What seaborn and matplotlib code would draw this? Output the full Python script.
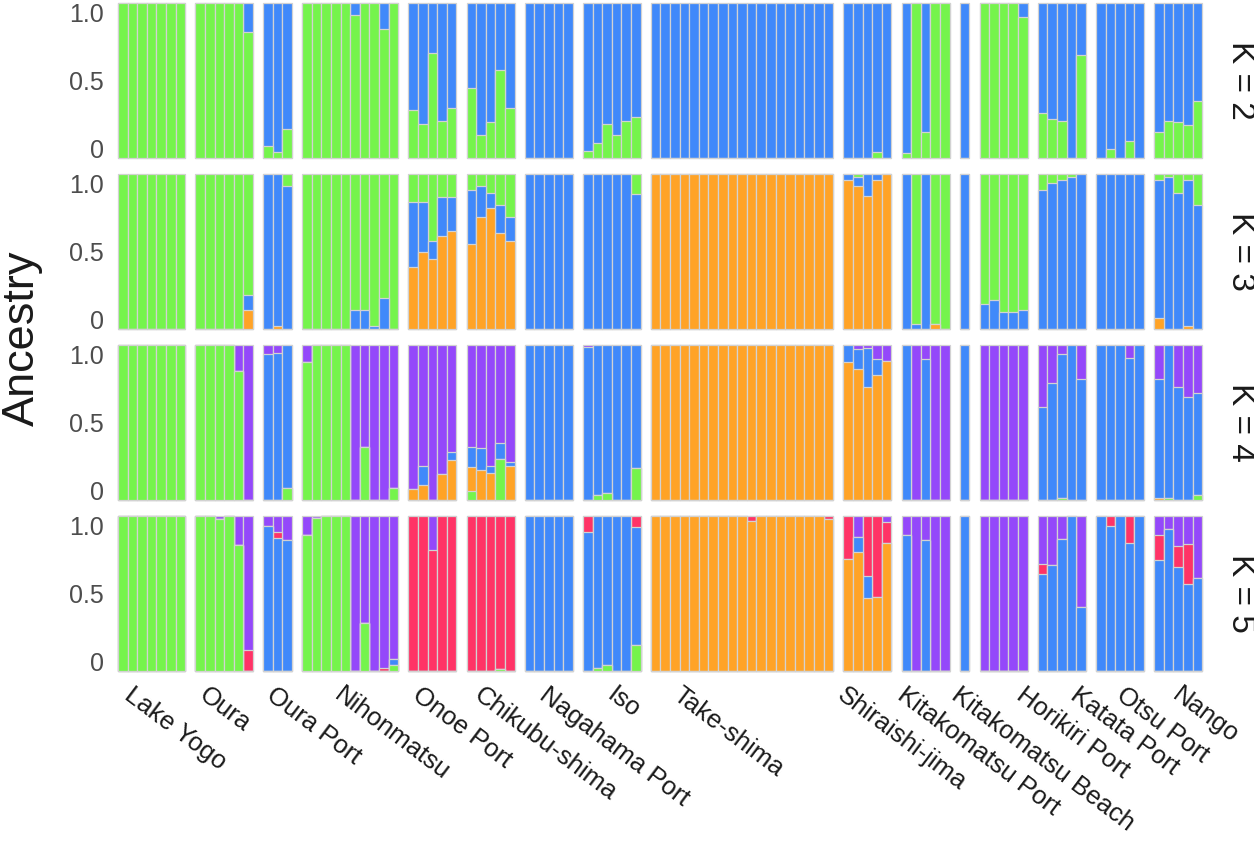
import matplotlib.pyplot as plt
import numpy as np
import seaborn as sns

# populations (facet columns) and number of individuals in each
populations = ['Lake Yogo', 'Oura', 'Oura Port', 'Nihonmatsu', 'Onoe Port', 'Chikubu-shima',
               'Nagahama Port', 'Iso', 'Take-shima', 'Shiraishi-jima', 'Kitakomatsu Port',
               'Kitakomatsu Beach', 'Horikiri Port', 'Katata Port', 'Otsu Port', 'Nango']
pop_sizes = [7, 6, 3, 10, 5, 5, 5, 6, 19, 5, 5, 1, 5, 5, 5, 5]
k_values = [2, 3, 4, 5]

GREEN = '#75F44C'
BLUE = '#4089FA'
ORANGE = '#FFA326'
PURPLE = '#9448FA'
RED = '#FF3366'

# ancestry proportions, one value per individual, grouped by population
# (the top cluster of each K is whatever is left up to 1)

# K = 2 : green below, blue on top
k2_green = ([1, 1, 1, 1, 1, 1, 1] +
            [1, 1, 1, 1, 1, 0.81] +
            [0.08, 0.04, 0.19] +
            [1, 1, 1, 1, 1, 0.92, 1, 1, 0.83, 1] +
            [0.31, 0.22, 0.68, 0.24, 0.32] +
            [0.45, 0.15, 0.23, 0.57, 0.32] +
            [0, 0, 0, 0, 0] +
            [0.045, 0.10, 0.22, 0.15, 0.24, 0.265] +
            [0] * 19 +
            [0, 0, 0, 0.04, 0] +
            [0.03, 1, 0.17, 1, 1] +
            [0] +
            [1, 1, 1, 1, 0.91] +
            [0.29, 0.25, 0.24, 0, 0.665] +
            [0, 0.06, 0, 0.11, 0] +
            [0.17, 0.24, 0.23, 0.21, 0.37])

# K = 3 : orange, blue, green on top
k3_orange = ([0] * 7 +
             [0, 0, 0, 0, 0, 0.12] +
             [0, 0.02, 0] +
             [0] * 10 +
             [0.40, 0.50, 0.45, 0.60, 0.63] +
             [0.55, 0.72, 0.78, 0.62, 0.57] +
             [0] * 5 +
             [0] * 6 +
             [1] * 19 +
             [0.96, 0.92, 0.86, 0.96, 1.0] +
             [0, 0, 0, 0.03, 0] +
             [0] +
             [0] * 5 +
             [0] * 5 +
             [0] * 5 +
             [0.07, 0, 0, 0.02, 0])
k3_blue = ([0] * 7 +
           [0, 0, 0, 0, 0, 0.10] +
           [1, 0.98, 0.92] +
           [0, 0, 0, 0, 0, 0.12, 0.12, 0.02, 0.2, 0] +
           [0.42, 0.32, 0.12, 0.25, 0.22] +
           [0.35, 0.20, 0.10, 0.18, 0.15] +
           [1] * 5 +
           [1, 1, 1, 1, 1, 0.87] +
           [0] * 19 +
           [0.04, 0.06, 0.14, 0.04, 0] +
           [1, 0.03, 1, 0, 0] +
           [1] +
           [0.16, 0.19, 0.11, 0.11, 0.12] +
           [0.90, 0.94, 0.96, 0.98, 1.0] +
           [1] * 5 +
           [0.89, 0.98, 0.88, 0.94, 0.80])

# K = 4 : green, orange, blue, purple on top
k4_green = ([1] * 7 +
            [1, 1, 1, 1, 0.83, 0] +
            [0, 0, 0.08] +
            [0.89, 1, 1, 1, 1, 0, 0.34, 0, 0, 0.08] +
            [0] * 5 +
            [0.06, 0, 0, 0.265, 0] +
            [0] * 5 +
            [0, 0.03, 0.045, 0, 0, 0.205] +
            [0] * 19 +
            [0] * 5 +
            [0] * 5 +
            [0] +
            [0] * 5 +
            [0, 0, 0.01, 0, 0] +
            [0] * 5 +
            [0, 0.015, 0, 0, 0.03])
k4_orange = ([0] * 7 +
             [0] * 6 +
             [0] * 3 +
             [0] * 10 +
             [0.07, 0.10, 0, 0.17, 0.26] +
             [0.15, 0.195, 0.175, 0, 0.22] +
             [0] * 5 +
             [0] * 6 +
             [1] * 19 +
             [0.89, 0.845, 0.73, 0.805, 0.895] +
             [0] * 5 +
             [0] +
             [0] * 5 +
             [0] * 5 +
             [0] * 5 +
             [0.01, 0, 0, 0, 0])
k4_blue = ([0] * 7 +
           [0] * 6 +
           [0.94, 0.95, 0.92] +
           [0] * 10 +
           [0, 0.12, 0, 0, 0.05] +
           [0.13, 0.14, 0.045, 0.105, 0.025] +
           [1] * 5 +
           [0.985, 0.97, 0.955, 1, 1, 0.795] +
           [0] * 19 +
           [0.11, 0.13, 0.25, 0.105, 0] +
           [1, 0, 0.91, 0, 0] +
           [1] +
           [0] * 5 +
           [0.60, 0.755, 0.93, 1, 0.78] +
           [1, 1, 1, 0.915, 1] +
           [0.77, 0.985, 0.73, 0.665, 0.66])

# K = 5 : green, orange, blue, red, purple on top
k5_green = ([1] * 7 +
            [1, 1, 0.98, 1, 0.81, 0] +
            [0] * 3 +
            [0.88, 0.99, 1, 1, 1, 0, 0.31, 0, 0, 0.04] +
            [0] * 5 +
            [0, 0, 0, 0.01, 0] +
            [0] * 5 +
            [0, 0.02, 0.04, 0, 0, 0.17] +
            [0] * 19 +
            [0] * 5 +
            [0] * 5 +
            [0] +
            [0] * 5 +
            [0] * 5 +
            [0] * 5 +
            [0] * 5)
k5_orange = ([0] * 7 +
             [0] * 6 +
             [0] * 3 +
             [0] * 10 +
             [0] * 5 +
             [0] * 5 +
             [0] * 5 +
             [0] * 6 +
             [1] * 10 + [0.97] + [1] * 7 + [0.98] +
             [0.72, 0.77, 0.47, 0.48, 0.825] +
             [0] * 5 +
             [0] +
             [0] * 5 +
             [0] * 5 +
             [0] * 5 +
             [0] * 5)
k5_blue = ([0] * 7 +
           [0] * 6 +
           [0.935, 0.86, 0.845] +
           [0, 0, 0, 0, 0, 0, 0, 0, 0, 0.04] +
           [0] * 5 +
           [0] * 5 +
           [1] * 5 +
           [0.90, 0.98, 0.96, 1, 1, 0.76] +
           [0] * 19 +
           [0, 0.095, 0.14, 0, 0] +
           [0.875, 0, 0.845, 0, 0] +
           [1] +
           [0] * 5 +
           [0.625, 0.685, 0.85, 1, 0.41] +
           [1, 0.935, 1, 0.825, 1] +
           [0.715, 0.915, 0.67, 0.56, 0.60])
k5_red = ([0] * 7 +
          [0, 0, 0, 0, 0, 0.135] +
          [0, 0.04, 0] +
          [0, 0, 0, 0, 0, 0, 0, 0, 0.02, 0] +
          [1, 1, 0.78, 1, 1] +
          [1, 1, 1, 0.99, 1] +
          [0] * 5 +
          [0.10, 0, 0, 0, 0, 0.07] +
          [0] * 10 + [0.03] + [0] * 7 + [0.02] +
          [0.28, 0, 0.39, 0.52, 0.135] +
          [0] * 5 +
          [0] +
          [0] * 5 +
          [0.065, 0, 0, 0, 0] +
          [0, 0.065, 0, 0.175, 0] +
          [0.16, 0, 0.135, 0.26, 0])

stacks = {
    2: [(GREEN, k2_green)],
    3: [(ORANGE, k3_orange), (BLUE, k3_blue)],
    4: [(GREEN, k4_green), (ORANGE, k4_orange), (BLUE, k4_blue)],
    5: [(GREEN, k5_green), (ORANGE, k5_orange), (BLUE, k5_blue), (RED, k5_red)],
}
top_colour = {2: BLUE, 3: GREEN, 4: PURPLE, 5: PURPLE}

sns.set_theme(style='white')
plt.rcParams['font.family'] = ['Liberation Sans', 'DejaVu Sans']

W, H = 1254, 843
fig = plt.figure(figsize=(W / 100, H / 100), dpi=100)

unit = 9.6      # px per individual
gap = 10.2      # px between population panels
x0 = 118
row_top = [3, 174, 345, 516]
row_h = 155
edge = '#D2D2D2'

# left edge (px) of each slanted population name under the panels
label_left = [120, 195, 262, 330, 408, 470, 535, 603, 668, 833, 893, 947, 1012, 1066, 1112, 1168]

starts = np.concatenate([[0], np.cumsum(pop_sizes)[:-1]])

for r, k in enumerate(k_values):
    colours = [c for c, _ in stacks[k]]
    cum = np.cumsum([np.array(v, dtype=float) for _, v in stacks[k]], axis=0)
    x_px = x0
    for p, (name, n, s) in enumerate(zip(populations, pop_sizes, starts)):
        w = n * unit
        ax = fig.add_axes([x_px / W, 1 - (row_top[r] + row_h) / H, w / W, row_h / H])
        ind = np.arange(n)
        # top cluster fills to 1, lower cumulative levels are drawn over it
        sns.barplot(x=ind, y=np.ones(n), color=top_colour[k], saturation=1, width=1,
                    edgecolor=edge, linewidth=0.9, errorbar=None, ax=ax)
        for c, level in zip(colours[::-1], cum[::-1]):
            sns.barplot(x=ind, y=np.minimum(level[s:s + n], 1), color=c, saturation=1, width=1,
                        edgecolor=edge, linewidth=0.9, errorbar=None, ax=ax)
        for patch in ax.patches:
            patch.set_clip_on(False)
        ax.set_xlim(-0.5, n - 0.5)
        ax.set_ylim(0, 1)
        ax.set(xlabel='', ylabel='')
        ax.set_xticks([])
        sns.despine(ax=ax, left=True, bottom=True)
        if p == 0:
            ax.set_yticks([0, 0.5, 1], ['0', '0.5', '1.0'])
            ax.tick_params(axis='y', length=0, pad=10, labelsize=18, labelcolor='#4D4D4D')
            labels = ax.get_yticklabels()
            labels[0].set_va('baseline')
            labels[2].set_va('top')
        else:
            ax.set_yticks([])
        x_px += w + gap
    fig.text(1240 / W, 1 - (row_top[r] + row_h / 2) / H, f'K = {k}', rotation=-90,
             ha='center', va='center', fontsize=24, color='#1A1A1A')

for name, lx in zip(populations, label_left):
    fig.text(lx / W, 1 - 683 / H, name, rotation=-37, ha='left', va='top',
             fontsize=18.5, color='#1A1A1A')

fig.text(22 / W, 1 - 338 / H, 'Ancestry', rotation=90, ha='center', va='center',
         fontsize=32.5, color='#1A1A1A')

fig.savefig('out.png', dpi=100)
